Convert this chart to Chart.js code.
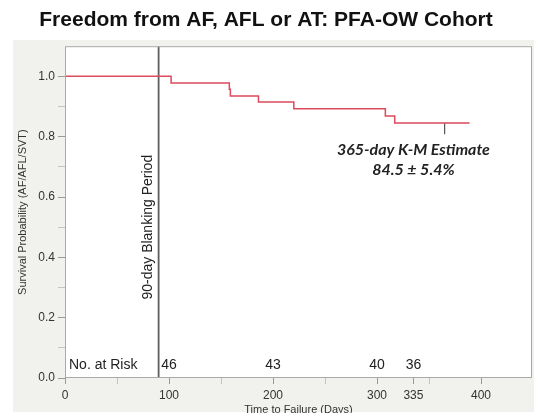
<!DOCTYPE html>
<html>
<head>
<meta charset="utf-8">
<script src="https://cdn.jsdelivr.net/npm/chart.js@4.4.1/dist/chart.umd.min.js"></script>
<style>
  html, body { margin: 0; padding: 0; background: #fff; overflow: hidden; }
  #wrap { position: relative; width: 534px; height: 413px; overflow: hidden; }
  #panel { position: absolute; left: 13px; top: 40px; width: 521px; height: 372px; background: #f1f1ed; }
  #c { position: absolute; left: 0; top: 0; }
</style>
</head>
<body>
<div id="wrap">
  <div id="panel"></div>
  <canvas id="c" width="534" height="422"></canvas>
</div>
<script>
// Kaplan-Meier steps (days, survival)
const days = [0, 102, 158, 159, 186, 220, 308, 317, 389];
const survival = [1.0, 0.978, 0.957, 0.935, 0.915, 0.893, 0.869, 0.845, 0.845];

const blankingDay = 90;
const estimateDay = 365;
const estimateValue = 0.845;

// numbers at risk
const riskDays = [100, 200, 300, 335];
const riskCounts = [46, 43, 40, 36];

// axis ticks
const xTickValues = [0, 50, 100, 150, 200, 250, 300, 335, 350, 400];
const xTickLabels = [0, 100, 200, 300, 335, 400];
const yTickValues = [0, 0.1, 0.2, 0.3, 0.4, 0.5, 0.6, 0.7, 0.8, 0.9, 1.0];

const axisFont = { family: 'Liberation Sans, Arial, sans-serif', size: 12 };

const decor = {
  id: 'decor',
  beforeDraw(chart) {
    const { ctx, chartArea: a } = chart;
    ctx.save();
    ctx.fillStyle = '#fff';
    ctx.fillRect(a.left, a.top, a.width, a.height);
    ctx.restore();
  },
  afterDatasetsDraw(chart) {
    const { ctx, chartArea: a, scales: { x, y } } = chart;
    ctx.save();
    // plot frame
    ctx.strokeStyle = '#a9a9a9';
    ctx.lineWidth = 1;
    ctx.strokeRect(a.left + 0.5, a.top + 0.5, a.width - 1, a.height - 1);

    ctx.fillStyle = '#222';
    ctx.textBaseline = 'middle';

    // blanking period label
    ctx.save();
    ctx.translate(x.getPixelForValue(blankingDay) - 10, y.getPixelForValue(0.5));
    ctx.rotate(-Math.PI / 2);
    ctx.textAlign = 'center';
    ctx.font = '14px Liberation Sans, Arial, sans-serif';
    ctx.fillText('90-day Blanking Period', 0, 0);
    ctx.restore();

    // K-M estimate note
    ctx.textAlign = 'center';
    ctx.font = 'italic bold 16px Lato, sans-serif';
    ctx.fillText('365-day K-M Estimate', x.getPixelForValue(335), y.getPixelForValue(0.755));
    ctx.fillText('84.5 \u00b1 5.4%', x.getPixelForValue(335), y.getPixelForValue(0.689));

    // numbers at risk
    ctx.font = '14px Liberation Sans, Arial, sans-serif';
    ctx.textAlign = 'left';
    ctx.fillText('No. at Risk', a.left + 4, y.getPixelForValue(0.042));
    ctx.textAlign = 'center';
    riskDays.forEach((d, i) => {
      ctx.fillText(String(riskCounts[i]), x.getPixelForValue(d), y.getPixelForValue(0.042));
    });
    ctx.restore();
  }
};

new Chart(document.getElementById('c'), {
  type: 'line',
  data: {
    datasets: [
      {
        data: days.map((d, i) => ({ x: d, y: survival[i] })),
        borderColor: '#dc4a5c',
        borderWidth: 1.5,
        stepped: true,
        pointRadius: 0,
        fill: false
      },
      {
        data: [{ x: blankingDay, y: 0 }, { x: blankingDay, y: 1.1 }],
        borderColor: '#5e5e5e',
        borderWidth: 1.8,
        pointRadius: 0
      },
      {
        data: [{ x: estimateDay, y: estimateValue }, { x: estimateDay, y: 0.808 }],
        borderColor: '#555',
        borderWidth: 1.2,
        pointRadius: 0
      }
    ]
  },
  options: {
    responsive: false,
    animation: false,
    layout: { padding: { left: 0, right: 2, top: 0, bottom: 0 } },
    plugins: {
      legend: { display: false },
      tooltip: { enabled: false },
      title: {
        display: true,
        text: 'Freedom from AF, AFL or AT: PFA-OW Cohort',
        color: '#111',
        font: { family: 'Liberation Sans, Arial, sans-serif', size: 21, weight: 'bold' },
        padding: { top: 8, bottom: 13 }
      }
    },
    scales: {
      x: {
        type: 'linear',
        min: 0,
        max: 449,
        afterFit: (s) => { s.height = 44; },
        afterBuildTicks: (s) => { s.ticks = xTickValues.map(v => ({ value: v })); },
        grid: {
          drawOnChartArea: false,
          tickLength: 6,
          tickColor: (c) => xTickLabels.includes(c.tick && c.tick.value) ? '#999' : '#c4c4c4'
        },
        border: { display: false },
        ticks: {
          autoSkip: false,
          maxRotation: 0,
          padding: 4,
          color: '#333',
          font: axisFont,
          callback: (v) => xTickLabels.includes(v) ? String(v) : ''
        },
        title: {
          display: true,
          text: 'Time to Failure (Days)',
          color: '#333',
          font: { family: 'Liberation Sans, Arial, sans-serif', size: 11 },
          padding: { top: 0, bottom: 5 }
        }
      },
      y: {
        min: 0,
        max: 1.1,
        afterFit: (s) => { s.width = 65; },
        afterBuildTicks: (s) => { s.ticks = yTickValues.map(v => ({ value: v })); },
        grid: {
          drawOnChartArea: false,
          tickLength: 7,
          tickColor: (c) => (c.tick && Math.round(c.tick.value * 10) % 2 === 0) ? '#999' : '#c4c4c4'
        },
        border: { display: false },
        ticks: {
          autoSkip: false,
          padding: 3,
          color: '#333',
          font: axisFont,
          callback: (v) => Math.round(v * 10) % 2 === 0 ? v.toFixed(1) : ''
        },
        title: {
          display: true,
          text: 'Survival Probability (AF/AFL/SVT)',
          color: '#333',
          font: { family: 'Liberation Sans, Arial, sans-serif', size: 11 },
          padding: { top: 16, bottom: 0 }
        }
      }
    }
  },
  plugins: [decor]
});
</script>
</body>
</html>
